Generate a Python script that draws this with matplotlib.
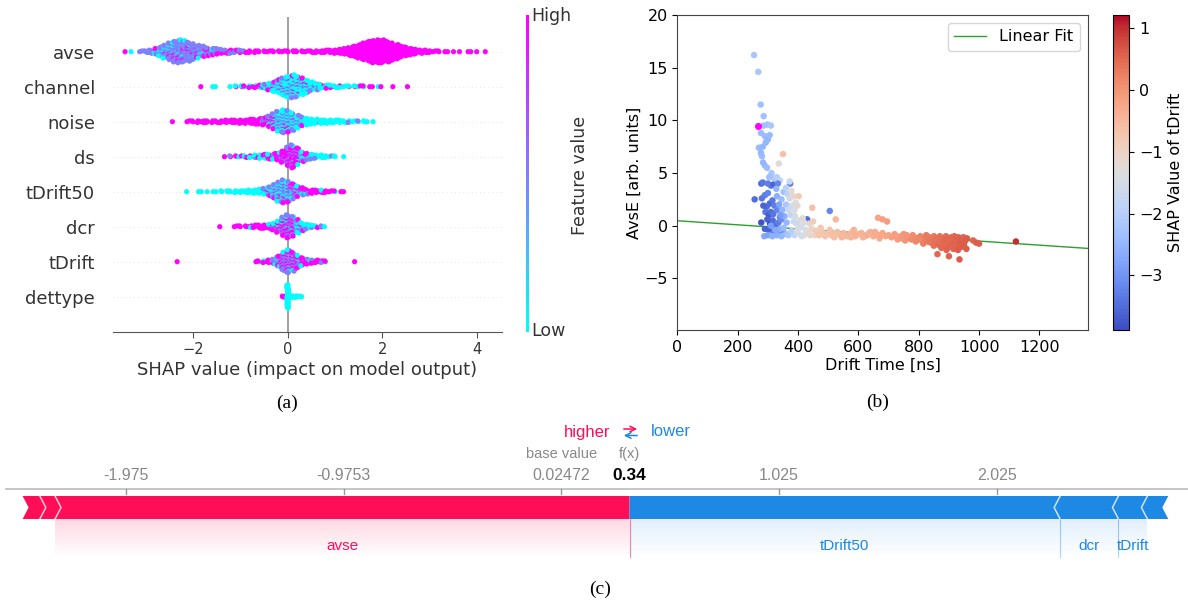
import numpy as np
import matplotlib.pyplot as plt
from matplotlib.colors import Normalize
from matplotlib.patches import Polygon
import matplotlib.cm as cm

W, H = 1188, 603

# ---------------- (a) SHAP summary (beeswarm) ----------------
features = ['avse', 'channel', 'noise', 'ds', 'tDrift50', 'dcr', 'tDrift', 'dettype']

# per feature: first bin centre, bin width, points per bin,
# tenths of high (magenta) and low (cyan) points per bin; the rest are mid (violet)
avse_start, avse_step = -3.4, 0.1
avse_counts = [1, 1, 0, 2, 3, 5, 8, 12, 17, 22,
               27, 30, 28, 25, 21, 17, 14, 11, 9, 8,
               6, 5, 5, 4, 4, 3, 3, 3, 2, 2,
               2, 2, 2, 2, 2, 2, 2, 2, 2, 3,
               3, 3, 4, 4, 5, 6, 8, 11, 14, 18,
               22, 26, 29, 30, 30, 27, 23, 19, 15, 12,
               9, 7, 5, 4, 3, 2, 2, 1, 1, 1,
               1, 0, 1, 1, 1, 0, 1]
avse_hi = [1] * 16 + [3] * 4 + [6] * 4 + [8] * 5 + [10] * 48
avse_lo = [2] * 16 + [1] * 4 + [1] * 4 + [0] * 5 + [0] * 48

channel_start, channel_step = -1.8, 0.1
channel_counts = [1, 0, 1, 1, 0, 0, 1, 2, 2, 2,
                  3, 3, 4, 6, 9, 13, 18, 23, 27, 30,
                  27, 22, 17, 12, 9, 6, 5, 4, 3, 3,
                  2, 2, 2, 2, 2, 1, 1, 1, 1, 0,
                  1, 0, 0, 1]
channel_hi = [10] + [0] * 3 + [5] * 9 + [2] * 13 + [3] * 7 + [5] * 7 + [10] * 4
channel_lo = [0] + [10] * 3 + [5] * 9 + [6] * 13 + [6] * 7 + [4] * 7 + [0] * 4

noise_start, noise_step = -2.4, 0.1
noise_counts = [1, 0, 0, 2, 2, 3, 3, 3, 3, 3,
                3, 4, 4, 4, 5, 5, 6, 7, 8, 10,
                14, 20, 26, 30, 28, 23, 17, 12, 9, 7,
                6, 5, 5, 4, 4, 4, 3, 3, 2, 2,
                2, 1, 1]
noise_hi = [10] * 19 + [5] * 3 + [1] * 6 + [0] * 15
noise_lo = [0] * 19 + [3] * 3 + [5] * 6 + [9] * 15

ds_start, ds_step = -1.3, 0.1
ds_counts = [1, 2, 2, 2, 3, 3, 4, 5, 6, 7,
             8, 10, 15, 24, 30, 22, 13, 9, 7, 5,
             4, 3, 2, 2, 0, 1]
ds_hi = [10] + [5] * 10 + [7] * 5 + [3] * 3 + [0] * 7
ds_lo = [0] + [4] * 10 + [1] * 5 + [5] * 3 + [9] * 7

tdrift50_start, tdrift50_step = -2.1, 0.1
tdrift50_counts = [1, 0, 1, 1, 1, 1, 1, 2, 2, 2,
                   3, 3, 3, 4, 5, 6, 8, 12, 18, 25,
                   30, 27, 20, 14, 10, 7, 5, 4, 4, 3,
                   2, 2, 1, 1]
tdrift50_hi = [0] * 16 + [2] * 7 + [6] * 3 + [9] * 8
tdrift50_lo = [10] * 16 + [3] * 7 + [2] * 3 + [1] * 8

dcr_start, dcr_step = -1.4, 0.1
dcr_counts = [1, 0, 0, 2, 2, 2, 3, 4, 5, 5,
              6, 9, 15, 24, 30, 26, 18, 11, 7, 4,
              3, 2, 1]
dcr_hi = [9] * 11 + [5] * 5 + [2] * 7
dcr_lo = [1] * 11 + [1] * 5 + [5] * 7

tdrift_start, tdrift_step = -2.3, 0.1
tdrift_counts = [1] + [0] * 15 + [1, 2, 3, 4, 7, 14, 24, 30, 25, 17,
                                  11, 7, 5, 4, 3, 2] + [0] * 5 + [1]
tdrift_hi = [10] + [0] * 15 + [8] * 4 + [4] * 6 + [7] * 6 + [0] * 5 + [10]
tdrift_lo = [0] + [0] * 15 + [1] * 4 + [2] * 6 + [1] * 6 + [0] * 5 + [0]

dettype_start, dettype_step = -0.15, 0.05
dettype_counts = [0, 2, 3, 40, 4, 3, 3, 2, 2, 1]
dettype_hi = [10, 10, 10, 0, 0, 0, 0, 0, 0, 0]
dettype_lo = [0, 0, 0, 10, 10, 10, 10, 10, 10, 10]

swarm = {
    'avse': (avse_start, avse_step, avse_counts, avse_hi, avse_lo),
    'channel': (channel_start, channel_step, channel_counts, channel_hi, channel_lo),
    'noise': (noise_start, noise_step, noise_counts, noise_hi, noise_lo),
    'ds': (ds_start, ds_step, ds_counts, ds_hi, ds_lo),
    'tDrift50': (tdrift50_start, tdrift50_step, tdrift50_counts, tdrift50_hi, tdrift50_lo),
    'dcr': (dcr_start, dcr_step, dcr_counts, dcr_hi, dcr_lo),
    'tDrift': (tdrift_start, tdrift_step, tdrift_counts, tdrift_hi, tdrift_lo),
    'dettype': (dettype_start, dettype_step, dettype_counts, dettype_hi, dettype_lo),
}

# ---------------- (b) AvsE vs drift time, coloured by SHAP of tDrift ----------------
# (drift time [ns], AvsE, SHAP value of tDrift)
arm_pts = [(254, 16.2, -2.2), (268, 14.6, -2.2), (276, 11.5, -2.3), (286, 10.4, -2.3),
           (285, 9.5, -2.3), (298, 9.6, -2.3), (310, 9.5, -2.2), (277, 8.8, -2.4),
           (290, 8.5, -2.4), (300, 8.2, -2.5), (306, 8.6, -2.4), (293, 7.9, -2.5),
           (270, 7.4, -2.4), (283, 7.5, -2.5), (277, 6.9, -2.5), (280, 6.6, -2.4),
           (290, 5.7, -2.4), (284, 6.0, -2.5), (297, 5.5, -2.4), (312, 5.0, -2.2),
           (320, 4.5, -2.1), (330, 4.6, -2.0), (340, 4.3, -1.8), (304, 4.6, -2.3),
           (336, 5.9, -1.3), (350, 6.8, -0.6)]
core_pts = [(278, 4.0, -3.5), (283, 4.1, -3.4), (300, 4.0, -3.3), (310, 3.8, -3.3),
            (318, 3.9, -3.6), (333, 4.0, -3.2), (374, 4.0, -3.3), (256, 2.5, -3.5),
            (280, 2.6, -3.4), (290, 2.9, -3.3), (300, 3.1, -3.2), (306, 2.1, -3.6),
            (296, 1.8, -3.5), (315, 2.4, -3.4), (322, 1.9, -3.3), (285, 1.9, -3.6),
            (292, 1.3, -3.4), (303, 1.0, -3.7), (310, 1.3, -3.5), (318, 1.1, -3.4),
            (330, 1.5, -3.2), (340, 0.8, -3.3), (278, 0.3, -3.8), (298, 0.6, -3.6),
            (307, 0.2, -3.8), (316, 0.5, -3.5), (326, 0.0, -3.5), (335, 0.3, -3.3),
            (345, 0.6, -3.1), (290, -0.3, -3.6), (303, -0.4, -3.6), (320, -0.6, -3.3),
            (336, -0.8, -3.2), (350, -0.5, -3.0), (430, 0.6, -3.5), (505, 1.4, -3.2)]
mid_pts = [(288, -1.0, -2.7), (300, -0.9, -2.8), (315, -1.0, -2.6), (330, -0.9, -2.6),
           (345, -1.0, -2.5), (360, -0.8, -2.4), (340, -0.3, -2.6), (325, -0.4, -2.7),
           (330, 2.8, -2.6), (345, 2.5, -2.4), (352, 3.2, -2.3), (360, 2.0, -2.2),
           (348, 1.5, -2.5), (355, 0.9, -2.6), (362, 0.3, -2.5), (342, 1.0, -2.9),
           (337, 2.0, -2.8), (328, 3.5, -2.5), (372, 4.2, -1.7), (360, 3.6, -1.9),
           (310, 0.0, -2.9), (352, -0.2, -2.4), (368, -0.9, -2.2)]
grey_pts = [(365, 3.0, -1.9), (372, 2.6, -1.6), (378, 3.3, -1.2), (385, 2.8, -1.1),
            (392, 2.2, -1.3), (380, 1.9, -1.5), (368, 1.5, -1.7), (388, 1.5, -1.4),
            (398, 1.9, -1.2), (402, 2.8, -0.8), (375, 1.0, -1.8), (390, 0.9, -1.5),
            (405, 0.5, -1.3), (415, 0.7, -1.2), (420, 0.3, -1.4), (395, 0.2, -1.6),
            (410, -0.1, -1.5), (378, -0.5, -2.0), (388, -0.9, -1.8), (400, -0.7, -1.6),
            (420, -0.9, -1.3), (432, -0.6, -1.2), (445, -0.3, -1.0), (438, 0.2, -1.1),
            (450, 0.4, -0.9), (455, -0.9, -1.0), (447, 1.7, -0.6), (425, -0.4, -1.4),
            (412, -1.0, -1.5), (440, -0.9, -1.1), (385, 0.4, -1.6), (398, -0.4, -1.4)]
peach_pts = [(460, -0.5, -0.8), (470, -0.9, -0.7), (480, -0.6, -0.75), (490, -1.0, -0.7),
             (500, -0.7, -0.65), (510, -0.9, -0.6), (520, -1.1, -0.6), (530, -0.6, -0.55),
             (525, 0.6, -0.5), (540, -0.9, -0.55), (550, -0.7, -0.5), (560, -1.0, -0.5),
             (570, -0.8, -0.45), (580, -0.6, -0.45), (590, -1.0, -0.4), (600, -0.8, -0.4),
             (610, -0.7, -0.4), (620, -1.0, -0.35), (630, -0.9, -0.35), (640, -0.6, -0.35),
             (650, -1.0, -0.3), (660, -0.8, -0.3), (670, -1.2, -0.3), (680, -0.7, -0.25),
             (690, -1.0, -0.25), (700, -0.9, -0.2), (475, -0.2, -0.75), (505, -0.4, -0.65),
             (585, -0.4, -0.4), (545, -1.1, -0.5), (615, -1.1, -0.4), (655, -0.6, -0.3),
             (665, 0.75, -0.2), (680, 0.6, -0.15), (695, 0.4, -0.1), (488, -0.8, -0.7),
             (518, -0.8, -0.6), (575, -1.1, -0.45), (635, -0.7, -0.35), (675, -0.9, -0.25)]
salmon_pts = [(710, -1.1, -0.15), (720, -0.8, -0.1), (730, -1.3, -0.1), (740, -1.0, -0.05),
              (750, -0.8, 0.0), (755, -1.4, 0.0), (765, -1.1, 0.05), (775, -1.3, 0.1),
              (780, -0.9, 0.1), (790, -1.5, 0.15), (795, -1.2, 0.15), (805, -1.0, 0.2),
              (810, -1.4, 0.2), (815, -1.7, 0.25), (820, -1.2, 0.25), (825, -0.9, 0.3),
              (830, -1.5, 0.3), (725, -1.0, -0.1), (745, -1.2, -0.05), (760, -0.9, 0.0),
              (785, -1.1, 0.1), (800, -1.3, 0.15)]
red_pts = [(835, -1.1, 0.3), (840, -1.6, 0.35), (845, -1.3, 0.35), (850, -1.9, 0.4),
           (850, -1.0, 0.35), (855, -1.5, 0.4), (860, -1.2, 0.4), (862, -2.7, 0.5),
           (865, -1.8, 0.45), (870, -1.4, 0.45), (870, -1.0, 0.4), (875, -2.1, 0.5),
           (878, -1.6, 0.45), (880, -1.2, 0.45), (885, -1.9, 0.5), (888, -1.4, 0.5),
           (890, -1.0, 0.45), (892, -2.3, 0.55), (895, -1.7, 0.5), (898, -1.2, 0.5),
           (900, -2.9, 0.55), (902, -2.0, 0.55), (905, -1.5, 0.5), (908, -1.1, 0.5),
           (910, -1.8, 0.55), (912, -1.3, 0.5), (915, -2.2, 0.55), (918, -1.0, 0.5),
           (920, -1.6, 0.55), (922, -1.2, 0.55), (925, -1.9, 0.55), (928, -1.4, 0.55),
           (930, -2.3, 0.6), (932, -1.1, 0.55), (935, -3.2, 0.6), (936, -1.7, 0.6),
           (940, -1.3, 0.6), (942, -2.0, 0.6), (945, -1.5, 0.6), (948, -1.1, 0.55),
           (950, -1.8, 0.6), (955, -1.4, 0.6), (958, -2.2, 0.6), (960, -1.2, 0.6),
           (980, -1.4, 0.55), (990, -1.6, 0.6), (1000, -1.7, 0.6), (1122, -1.5, 1.0)]
highlight_pt = (268, 9.5)
fit_intercept, fit_slope = 0.47, -0.00193
shap_min, shap_max = -3.886, 1.216

# ---------------- (c) force plot ----------------
fp_base = 0.02472
fp_up_names = ['avse', '', '']
fp_up_vals = [2.640, 0.070, 0.079]
fp_down_names = ['tDrift50', 'dcr', 'tDrift', '']
fp_down_vals = [1.979, 0.268, 0.133, 0.096]
fp_ticks = [-1.975, -0.9753, 0.02472, 1.025, 2.025]
fp_tick_labels = ['-1.975', '-0.9753', '0.02472', '1.025', '2.025']

RED = '#ff0d57'
BLUE = '#1e88e5'

fig = plt.figure(figsize=(W / 100, H / 100), dpi=100)


def box(left, top, right, bottom):
    return [left / W, 1 - bottom / H, (right - left) / W, (bottom - top) / H]


# ---- panel (a)
ax = fig.add_axes(box(113, 16.7, 501.7, 331.7))
cool = plt.get_cmap('cool')
nrow = len(features)
for i, name in enumerate(features):
    row = nrow - 1 - i
    start, step, counts, hi, lo = swarm[name]
    maxlayer = max(c // 2 for c in counts)
    scale = 0.36 / (maxlayer + 1)
    xs, ys, cv = [], [], []
    for b, n in enumerate(counts):
        xc = start + b * step
        for k in range(n):
            layer = (k + 1) // 2 * (1 if k % 2 else -1)
            xs.append(xc + (((k * 0.7549 + b * 0.37) % 1) - 0.5) * step * 0.7)
            ys.append(row + layer * scale)
            u = (k * 0.618034 + b * 0.29) % 1
            if u < hi[b] / 10:
                cv.append(1.0)
            elif u < (hi[b] + lo[b]) / 10:
                cv.append(0.0)
            else:
                cv.append(0.5)
    ax.axhline(row, color='#cccccc', lw=0.5, dashes=(1, 5), zorder=-1)
    ax.scatter(xs, ys, c=cool(np.array(cv)), s=14, linewidths=0, zorder=3)
ax.axvline(0, color='#999999', lw=1.3, zorder=-1)
ax.set_xlim(-3.69, 4.52)
ax.set_ylim(-1, nrow)
ax.set_yticks(range(nrow))
ax.set_yticklabels(features[::-1], fontsize=13, color='#333333')
ax.tick_params(axis='y', length=0, pad=13)
ax.set_xticks([-2, 0, 2, 4])
ax.tick_params(axis='x', labelsize=10.5, labelcolor='#333333', color='#555555', length=4)
for s in ['top', 'right', 'left']:
    ax.spines[s].set_visible(False)
ax.spines['bottom'].set_color('#555555')
ax.set_xlabel('SHAP value (impact on model output)', fontsize=13, color='#333333', labelpad=3)

cax = fig.add_axes(box(526.3, 15, 529, 331.7))
cax.imshow(np.linspace(0, 1, 256)[:, None], aspect='auto', cmap='cool', origin='lower')
cax.axis('off')
fig.text(531.5 / W, 1 - 16 / H, 'High', fontsize=12.5, color='#333333', va='center', ha='left')
fig.text(531.5 / W, 1 - 331 / H, 'Low', fontsize=12.5, color='#333333', va='center', ha='left')
fig.text(580 / W, 1 - 175 / H, 'Feature value', fontsize=12.5, color='#333333',
         rotation=90, va='center', ha='center')

# ---- panel (b)
axb = fig.add_axes(box(677.4, 15, 1087.7, 330))
norm = Normalize(shap_min, shap_max)
for group in [arm_pts, core_pts, mid_pts, grey_pts, peach_pts, salmon_pts, red_pts]:
    g = np.array(group)
    axb.scatter(g[:, 0], g[:, 1], c=g[:, 2], cmap='coolwarm', norm=norm, s=22,
                linewidths=0, zorder=3)
axb.scatter([highlight_pt[0]], [highlight_pt[1]], color='#ff00ff', s=26, linewidths=0, zorder=4)
xl = np.array([0, 1360])
axb.plot(xl, fit_intercept + fit_slope * xl, color='#2ca02c', lw=1, label='Linear Fit', zorder=2)
axb.set_xlim(0, 1360)
axb.set_ylim(-9.9, 20)
axb.set_xticks([0, 200, 400, 600, 800, 1000, 1200])
axb.set_yticks([-5, 0, 5, 10, 15, 20])
axb.tick_params(labelsize=11.5)
axb.set_xlabel('Drift Time [ns]', fontsize=11.5, labelpad=2)
axb.set_ylabel('AvsE [arb. units]', fontsize=11.5, labelpad=2)
for s in axb.spines.values():
    s.set_color('#444444')
axb.legend(loc='upper right', fontsize=11.5)

caxb = fig.add_axes(box(1113.3, 15, 1129.3, 330))
cb = fig.colorbar(cm.ScalarMappable(norm=norm, cmap='coolwarm'), cax=caxb)
cb.set_ticks([-3, -2, -1, 0, 1])
cb.ax.tick_params(labelsize=11.5)
cb.set_label('SHAP Value of tDrift', fontsize=11.5)

# ---- panel (c) force plot, y in pixel rows
axc = fig.add_axes(box(0, 413, W, 603))
px_per_unit = 217.6


def px2v(p):
    return fp_base + (p - 561.4) / px_per_unit


axc.set_xlim(px2v(0), px2v(W))
axc.set_ylim(603, 413)
axc.axis('off')

fx = fp_base + sum(fp_up_vals) - sum(fp_down_vals)
h = 6 / px_per_unit
top, bot, mid = 496, 519, 507.5
fnt = dict(family=['Liberation Sans', 'DejaVu Sans'])

# axis line and ticks
axc.plot([px2v(6), px2v(W)], [489, 489], color='#bbbbbb', lw=1.2)
for t, lab in zip(fp_ticks, fp_tick_labels):
    axc.plot([t, t], [489, 493.5], color='#999999', lw=1)
    axc.text(t, 476, lab, ha='center', va='center', fontsize=11.5, color='#888888', **fnt)
axc.text(fp_base, 454, 'base value', ha='center', va='center', fontsize=10.5, color='#888888', **fnt)
axc.text(fx, 454, 'f(x)', ha='center', va='center', fontsize=10.5, color='#888888', **fnt)
axc.text(fx, 476, f'{fx:.2f}', ha='center', va='center', fontsize=12.5, fontweight='bold',
         color='black', **fnt)
axc.text(px2v(610), 432, 'higher', ha='right', va='center', fontsize=12, color=RED, **fnt)
axc.text(px2v(651), 432, 'lower', ha='left', va='center', fontsize=12, color=BLUE, **fnt)
axc.annotate('', xy=(px2v(640), 429), xytext=(px2v(621), 429),
             arrowprops=dict(arrowstyle='->', color=RED, lw=1.1))
axc.annotate('', xy=(px2v(621), 435.5), xytext=(px2v(640), 435.5),
             arrowprops=dict(arrowstyle='->', color=BLUE, lw=1.1))

# red (pushing higher) segments, from f(x) to the left
right = fx
for i, (name, v) in enumerate(zip(fp_up_names, fp_up_vals)):
    left = right - v
    pts = [(left, top), (right, top)]
    if i > 0:
        pts.append((right + h, mid))
    pts += [(right, bot), (left, bot), (left + h, mid)]
    axc.add_patch(Polygon(pts, closed=True, facecolor=RED, edgecolor='none'))
    if i > 0:
        axc.plot([right, right + h, right], [top, mid, bot], color='white', lw=1.1, alpha=0.75)
    if name:
        grad = np.zeros((60, 1, 4))
        grad[..., :3] = [1.0, 0.05, 0.34]
        grad[:, 0, 3] = np.linspace(0.16, 0.0, 60)
        axc.imshow(grad, extent=(left, right, 558, bot), aspect='auto', origin='upper', zorder=0)
        axc.text((left + right) / 2, 546, name, ha='center', va='center', fontsize=11,
                 color=RED, **fnt)
    right = left

# blue (pushing lower) segments, from f(x) to the right
left = fx
for i, (name, v) in enumerate(zip(fp_down_names, fp_down_vals)):
    right = left + v
    pts = [(left, top), (right, top), (right - h, mid), (right, bot), (left, bot)]
    if i > 0:
        pts.append((left - h, mid))
    axc.add_patch(Polygon(pts, closed=True, facecolor=BLUE, edgecolor='none'))
    if i > 0:
        axc.plot([left, left - h, left], [top, mid, bot], color='white', lw=1.1, alpha=0.75)
    if name:
        grad = np.zeros((60, 1, 4))
        grad[..., :3] = [0.12, 0.53, 0.9]
        grad[:, 0, 3] = np.linspace(0.13, 0.0, 60)
        axc.imshow(grad, extent=(left, right, 558, bot), aspect='auto', origin='upper', zorder=0)
        axc.text((left + right) / 2, 546, name, ha='center', va='center', fontsize=11,
                 color=BLUE, **fnt)
        if i > 0:
            axc.plot([left, left], [bot, 557], color=BLUE, lw=0.8, alpha=0.35)
    left = right
axc.plot([fx, fx], [bot, 557], color=RED, lw=0.8, alpha=0.5)

# captions
cap = dict(family=['Liberation Serif', 'DejaVu Serif'], fontsize=14, ha='center', va='center')
fig.text(287 / W, 1 - 403 / H, '(a)', **cap)
fig.text(878 / W, 1 - 402 / H, '(b)', **cap)
fig.text(600 / W, 1 - 589 / H, '(c)', **cap)

fig.savefig('out.png', dpi=100)
